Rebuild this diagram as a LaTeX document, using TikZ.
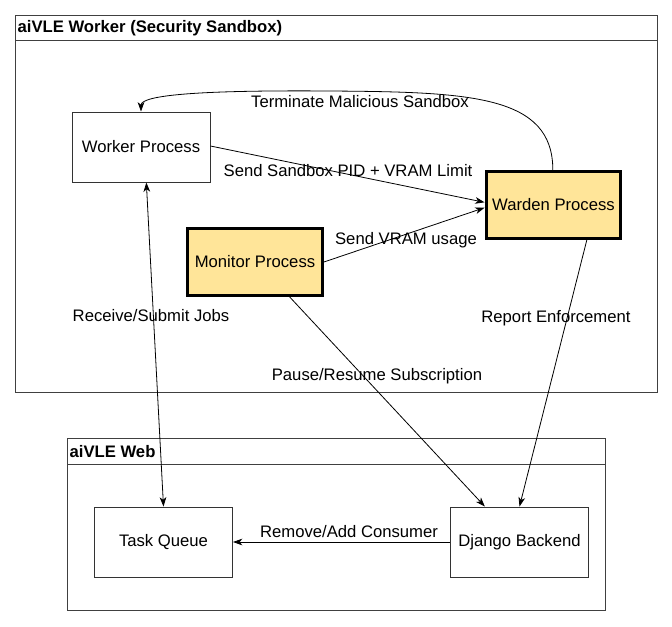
\documentclass[tikz,border=0pt]{standalone}
\usepackage{fontspec}
\setmainfont{Liberation Sans}
\usetikzlibrary{arrows.meta}
\definecolor{yel}{HTML}{FFE599}
\begin{document}
\begin{tikzpicture}[x=0.75pt,y=-0.75pt,
  box/.style={draw=black!80,line width=0.75pt,minimum width=103.5pt,minimum height=52.5pt,inner sep=0pt,font=\fontsize{12.5pt}{14pt}\selectfont},
  hot/.style={box,fill=yel,draw=black,line width=2.4pt,minimum width=101pt,minimum height=50pt},
  lbl/.style={font=\fontsize{12.5pt}{14pt}\selectfont,inner sep=1pt},
  hdr/.style={font=\bfseries\fontsize{12.5pt}{14pt}\selectfont,anchor=west,inner sep=1pt},
  tip/.style={Stealth[length=7pt,width=5pt,inset=2pt]},
  edge/.style={-{Stealth[length=7pt,width=5pt,inset=2pt]},line width=0.6pt}]
\useasboundingbox (0,0) rectangle (672,626);
% frames
\draw[black!75,line width=0.75pt] (15,15) rectangle (657,392);
\draw[black!75,line width=0.75pt] (15,40) -- (657,40);
\node[hdr] (hw) at (16,28) {aiVLE Worker (Security Sandbox)};
\draw[black!75,line width=0.75pt] (67,438) rectangle (605,610);
\draw[black!75,line width=0.75pt] (67,464) -- (605,464);
\node[hdr] (hweb) at (68,451.5) {aiVLE Web};
% nodes
\node[box] (worker) at (141,147) {Worker Process};
\node[hot] (warden) at (553.5,205) {Warden Process};
\node[hot] (monitor) at (255,262) {Monitor Process};
\node[box] (tq) at (163.5,542) {Task Queue};
\node[box] (dj) at (519.5,542) {Django Backend};
% edges
\draw[edge] (worker.east) ++(0,-1) coordinate (w1) (w1) -- ([yshift=2pt]warden.west);
\node[lbl] (l1) at (348,171) {Send Sandbox PID + VRAM Limit};
\draw[edge] (monitor.east) -- ([yshift=-2pt]warden.west);
\node[lbl] (l2) at (406,240) {Send VRAM usage};
\coordinate (wt) at ([xshift=-0.5pt]warden.north);
\coordinate (kt) at (worker.north);
\draw[edge] (wt) .. controls (553,95) and (470,92) .. (330,91) .. controls (200,90) and (141,95) .. (kt);
\node[lbl] (l3) at (360,102) {Terminate Malicious Sandbox};
\coordinate (wb) at ([xshift=4pt]worker.south);
\draw[{Stealth[length=7pt,width=5pt,inset=2pt]}-{Stealth[length=7pt,width=5pt,inset=2pt]},line width=0.6pt] (wb) -- (tq.north);
\node[lbl] (l4) at (151,316) {Receive/Submit Jobs};
\coordinate (mb) at ([xshift=26pt]monitor.south);
\coordinate (dt1) at ([xshift=-26pt]dj.north);
\draw[edge] (mb) -- (dt1);
\node[lbl] (l5) at (377,376) {Pause/Resume Subscription};
\coordinate (wdb) at ([xshift=25pt]warden.south);
\draw[edge] (wdb) -- (dj.north);
\node[lbl] (l6) at (556,318) {Report Enforcement};
\draw[edge] (dj.west) -- (tq.east);
\node[lbl] (l7) at (349,532) {Remove/Add Consumer};
\end{tikzpicture}
\end{document}
